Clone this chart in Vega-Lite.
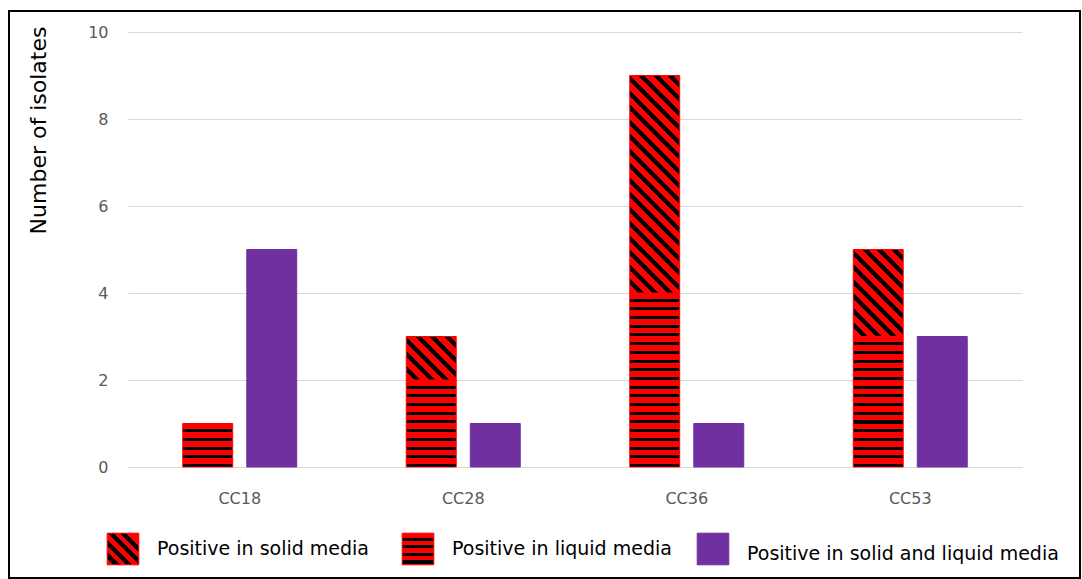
{
  "$schema": "https://vega.github.io/schema/vega-lite/v6.json",
  "width": 1071,
  "height": 567,
  "autosize": {"type": "none"},
  "padding": {"left": 9, "top": 11, "right": 2, "bottom": 1},
  "background": "white",
  "config": {
    "view": {"stroke": "#000000", "strokeWidth": 2},
    "axis": {"labelFont": "DejaVu Sans", "titleFont": "DejaVu Sans"}
  },
  "resolve": {"scale": {"x": "independent", "y": "independent"}},
  "layer": [
    {
      "data": {
        "values": [
          {"cc": "CC18", "bar": "single", "result": "Positive in liquid media", "isolates": 1},
          {"cc": "CC18", "bar": "both", "result": "Positive in solid and liquid media", "isolates": 5},
          {"cc": "CC28", "bar": "single", "result": "Positive in liquid media", "isolates": 2},
          {"cc": "CC28", "bar": "single", "result": "Positive in solid media", "isolates": 1},
          {"cc": "CC28", "bar": "both", "result": "Positive in solid and liquid media", "isolates": 1},
          {"cc": "CC36", "bar": "single", "result": "Positive in liquid media", "isolates": 4},
          {"cc": "CC36", "bar": "single", "result": "Positive in solid media", "isolates": 5},
          {"cc": "CC36", "bar": "both", "result": "Positive in solid and liquid media", "isolates": 1},
          {"cc": "CC53", "bar": "single", "result": "Positive in liquid media", "isolates": 3},
          {"cc": "CC53", "bar": "single", "result": "Positive in solid media", "isolates": 2},
          {"cc": "CC53", "bar": "both", "result": "Positive in solid and liquid media", "isolates": 3}
        ]
      },
      "mark": {"type": "bar", "strokeWidth": 1},
      "encoding": {
        "x": {
          "field": "cc",
          "type": "nominal",
          "title": null,
          "scale": {"range": [119, 1013], "paddingInner": 0.49, "paddingOuter": 0.245},
          "axis": {
            "orient": "bottom",
            "offset": -111,
            "domain": false,
            "ticks": false,
            "labelAngle": 0,
            "labelFontSize": 16,
            "labelColor": "#595959",
            "labelPadding": 23
          }
        },
        "xOffset": {
          "field": "bar",
          "type": "nominal",
          "scale": {"domain": ["single", "both"], "paddingInner": 0.22, "paddingOuter": 0}
        },
        "y": {
          "field": "isolates",
          "type": "quantitative",
          "stack": "zero",
          "scale": {"domain": [0, 10], "range": [456, 21], "nice": false},
          "axis": {
            "orient": "left",
            "offset": -119,
            "values": [0, 2, 4, 6, 8, 10],
            "domain": false,
            "ticks": false,
            "tickSize": 0,
            "grid": true,
            "gridColor": "#d9d9d9",
            "gridWidth": 1,
            "labelFontSize": 16,
            "labelColor": "#595959",
            "labelPadding": 20,
            "title": "Number of isolates",
            "titleFontSize": 22,
            "titleFontWeight": "normal",
            "titleColor": "#000000",
            "titleAngle": -90,
            "titleAlign": "center",
            "titleBaseline": "alphabetic",
            "titleX": -83,
            "titleY": 119
          }
        },
        "order": {"field": "result", "sort": "ascending"},
        "stroke": {
          "condition": {"test": "datum.result !== 'Positive in solid and liquid media'", "value": "#ff0000"},
          "value": "#7030a0"
        },
        "fill": {
          "condition": [
            {
              "test": "datum.result === 'Positive in solid media' && datum.isolates === 1",
              "value": {
                "gradient": "linear",
                "x1": 0, "y1": 1, "x2": 1.0644, "y2": 0.074,
                "stops": [
                  {"offset": 0, "color": "#ff0000"}, {"offset": 0.09305, "color": "#ff0000"}, {"offset": 0.09305, "color": "#000000"}, {"offset": 0.15508, "color": "#000000"},
                  {"offset": 0.15508, "color": "#ff0000"}, {"offset": 0.24813, "color": "#ff0000"}, {"offset": 0.24813, "color": "#000000"}, {"offset": 0.31016, "color": "#000000"},
                  {"offset": 0.31016, "color": "#ff0000"}, {"offset": 0.40321, "color": "#ff0000"}, {"offset": 0.40321, "color": "#000000"}, {"offset": 0.46524, "color": "#000000"},
                  {"offset": 0.46524, "color": "#ff0000"}, {"offset": 0.55829, "color": "#ff0000"}, {"offset": 0.55829, "color": "#000000"}, {"offset": 0.62032, "color": "#000000"},
                  {"offset": 0.62032, "color": "#ff0000"}, {"offset": 0.71337, "color": "#ff0000"}, {"offset": 0.71337, "color": "#000000"}, {"offset": 0.7754, "color": "#000000"},
                  {"offset": 0.7754, "color": "#ff0000"}, {"offset": 0.86845, "color": "#ff0000"}, {"offset": 0.86845, "color": "#000000"}, {"offset": 0.93048, "color": "#000000"},
                  {"offset": 0.93048, "color": "#ff0000"}, {"offset": 1, "color": "#ff0000"}
                ]
              }
            },
            {
              "test": "datum.result === 'Positive in solid media' && datum.isolates === 2",
              "value": {
                "gradient": "linear",
                "x1": 0, "y1": 1, "x2": 0.6803, "y2": -0.1837,
                "stops": [
                  {"offset": 0, "color": "#ff0000"}, {"offset": 0.063503, "color": "#ff0000"}, {"offset": 0.063503, "color": "#000000"}, {"offset": 0.105839, "color": "#000000"},
                  {"offset": 0.105839, "color": "#ff0000"}, {"offset": 0.169342, "color": "#ff0000"}, {"offset": 0.169342, "color": "#000000"}, {"offset": 0.211678, "color": "#000000"},
                  {"offset": 0.211678, "color": "#ff0000"}, {"offset": 0.275181, "color": "#ff0000"}, {"offset": 0.275181, "color": "#000000"}, {"offset": 0.317517, "color": "#000000"},
                  {"offset": 0.317517, "color": "#ff0000"}, {"offset": 0.38102, "color": "#ff0000"}, {"offset": 0.38102, "color": "#000000"}, {"offset": 0.423356, "color": "#000000"},
                  {"offset": 0.423356, "color": "#ff0000"}, {"offset": 0.486859, "color": "#ff0000"}, {"offset": 0.486859, "color": "#000000"}, {"offset": 0.529195, "color": "#000000"},
                  {"offset": 0.529195, "color": "#ff0000"}, {"offset": 0.592698, "color": "#ff0000"}, {"offset": 0.592698, "color": "#000000"}, {"offset": 0.635034, "color": "#000000"},
                  {"offset": 0.635034, "color": "#ff0000"}, {"offset": 0.698537, "color": "#ff0000"}, {"offset": 0.698537, "color": "#000000"}, {"offset": 0.740873, "color": "#000000"},
                  {"offset": 0.740873, "color": "#ff0000"}, {"offset": 0.804376, "color": "#ff0000"}, {"offset": 0.804376, "color": "#000000"}, {"offset": 0.846712, "color": "#000000"},
                  {"offset": 0.846712, "color": "#ff0000"}, {"offset": 0.910215, "color": "#ff0000"}, {"offset": 0.910215, "color": "#000000"}, {"offset": 0.952551, "color": "#000000"},
                  {"offset": 0.952551, "color": "#ff0000"}, {"offset": 1, "color": "#ff0000"}
                ]
              }
            },
            {
              "test": "datum.result === 'Positive in solid media' && datum.isolates === 5",
              "value": {
                "gradient": "linear",
                "x1": 0, "y1": 1, "x2": 0.26854, "y2": -0.16815,
                "stops": [
                  {"offset": 0, "color": "#ff0000"}, {"offset": 0.032524, "color": "#ff0000"}, {"offset": 0.032524, "color": "#000000"}, {"offset": 0.054206, "color": "#000000"},
                  {"offset": 0.054206, "color": "#ff0000"}, {"offset": 0.08673, "color": "#ff0000"}, {"offset": 0.08673, "color": "#000000"}, {"offset": 0.108412, "color": "#000000"},
                  {"offset": 0.108412, "color": "#ff0000"}, {"offset": 0.140936, "color": "#ff0000"}, {"offset": 0.140936, "color": "#000000"}, {"offset": 0.162618, "color": "#000000"},
                  {"offset": 0.162618, "color": "#ff0000"}, {"offset": 0.195142, "color": "#ff0000"}, {"offset": 0.195142, "color": "#000000"}, {"offset": 0.216824, "color": "#000000"},
                  {"offset": 0.216824, "color": "#ff0000"}, {"offset": 0.249348, "color": "#ff0000"}, {"offset": 0.249348, "color": "#000000"}, {"offset": 0.27103, "color": "#000000"},
                  {"offset": 0.27103, "color": "#ff0000"}, {"offset": 0.303554, "color": "#ff0000"}, {"offset": 0.303554, "color": "#000000"}, {"offset": 0.325236, "color": "#000000"},
                  {"offset": 0.325236, "color": "#ff0000"}, {"offset": 0.35776, "color": "#ff0000"}, {"offset": 0.35776, "color": "#000000"}, {"offset": 0.379442, "color": "#000000"},
                  {"offset": 0.379442, "color": "#ff0000"}, {"offset": 0.411966, "color": "#ff0000"}, {"offset": 0.411966, "color": "#000000"}, {"offset": 0.433648, "color": "#000000"},
                  {"offset": 0.433648, "color": "#ff0000"}, {"offset": 0.466172, "color": "#ff0000"}, {"offset": 0.466172, "color": "#000000"}, {"offset": 0.487854, "color": "#000000"},
                  {"offset": 0.487854, "color": "#ff0000"}, {"offset": 0.520378, "color": "#ff0000"}, {"offset": 0.520378, "color": "#000000"}, {"offset": 0.54206, "color": "#000000"},
                  {"offset": 0.54206, "color": "#ff0000"}, {"offset": 0.574584, "color": "#ff0000"}, {"offset": 0.574584, "color": "#000000"}, {"offset": 0.596266, "color": "#000000"},
                  {"offset": 0.596266, "color": "#ff0000"}, {"offset": 0.62879, "color": "#ff0000"}, {"offset": 0.62879, "color": "#000000"}, {"offset": 0.650472, "color": "#000000"},
                  {"offset": 0.650472, "color": "#ff0000"}, {"offset": 0.682996, "color": "#ff0000"}, {"offset": 0.682996, "color": "#000000"}, {"offset": 0.704678, "color": "#000000"},
                  {"offset": 0.704678, "color": "#ff0000"}, {"offset": 0.737202, "color": "#ff0000"}, {"offset": 0.737202, "color": "#000000"}, {"offset": 0.758884, "color": "#000000"},
                  {"offset": 0.758884, "color": "#ff0000"}, {"offset": 0.791408, "color": "#ff0000"}, {"offset": 0.791408, "color": "#000000"}, {"offset": 0.81309, "color": "#000000"},
                  {"offset": 0.81309, "color": "#ff0000"}, {"offset": 0.845614, "color": "#ff0000"}, {"offset": 0.845614, "color": "#000000"}, {"offset": 0.867296, "color": "#000000"},
                  {"offset": 0.867296, "color": "#ff0000"}, {"offset": 0.89982, "color": "#ff0000"}, {"offset": 0.89982, "color": "#000000"}, {"offset": 0.921502, "color": "#000000"},
                  {"offset": 0.921502, "color": "#ff0000"}, {"offset": 0.954026, "color": "#ff0000"}, {"offset": 0.954026, "color": "#000000"}, {"offset": 0.975708, "color": "#000000"},
                  {"offset": 0.975708, "color": "#ff0000"}, {"offset": 1, "color": "#ff0000"}
                ]
              }
            },
            {
              "test": "datum.result === 'Positive in liquid media' && datum.isolates === 1",
              "value": {
                "gradient": "linear",
                "x1": 1, "y1": 0, "x2": 1, "y2": 1,
                "stops": [
                  {"offset": 0, "color": "#ff0000"}, {"offset": 0.13, "color": "#ff0000"}, {"offset": 0.13, "color": "#000000"}, {"offset": 0.2, "color": "#000000"},
                  {"offset": 0.2, "color": "#ff0000"}, {"offset": 0.33, "color": "#ff0000"}, {"offset": 0.33, "color": "#000000"}, {"offset": 0.4, "color": "#000000"},
                  {"offset": 0.4, "color": "#ff0000"}, {"offset": 0.53, "color": "#ff0000"}, {"offset": 0.53, "color": "#000000"}, {"offset": 0.6, "color": "#000000"},
                  {"offset": 0.6, "color": "#ff0000"}, {"offset": 0.73, "color": "#ff0000"}, {"offset": 0.73, "color": "#000000"}, {"offset": 0.8, "color": "#000000"},
                  {"offset": 0.8, "color": "#ff0000"}, {"offset": 0.93, "color": "#ff0000"}, {"offset": 0.93, "color": "#000000"}, {"offset": 1, "color": "#000000"}
                ]
              }
            },
            {
              "test": "datum.result === 'Positive in liquid media' && datum.isolates === 2",
              "value": {
                "gradient": "linear",
                "x1": 1, "y1": 0, "x2": 1, "y2": 1,
                "stops": [
                  {"offset": 0, "color": "#ff0000"}, {"offset": 0.065, "color": "#ff0000"}, {"offset": 0.065, "color": "#000000"}, {"offset": 0.1, "color": "#000000"},
                  {"offset": 0.1, "color": "#ff0000"}, {"offset": 0.165, "color": "#ff0000"}, {"offset": 0.165, "color": "#000000"}, {"offset": 0.2, "color": "#000000"},
                  {"offset": 0.2, "color": "#ff0000"}, {"offset": 0.265, "color": "#ff0000"}, {"offset": 0.265, "color": "#000000"}, {"offset": 0.3, "color": "#000000"},
                  {"offset": 0.3, "color": "#ff0000"}, {"offset": 0.365, "color": "#ff0000"}, {"offset": 0.365, "color": "#000000"}, {"offset": 0.4, "color": "#000000"},
                  {"offset": 0.4, "color": "#ff0000"}, {"offset": 0.465, "color": "#ff0000"}, {"offset": 0.465, "color": "#000000"}, {"offset": 0.5, "color": "#000000"},
                  {"offset": 0.5, "color": "#ff0000"}, {"offset": 0.565, "color": "#ff0000"}, {"offset": 0.565, "color": "#000000"}, {"offset": 0.6, "color": "#000000"},
                  {"offset": 0.6, "color": "#ff0000"}, {"offset": 0.665, "color": "#ff0000"}, {"offset": 0.665, "color": "#000000"}, {"offset": 0.7, "color": "#000000"},
                  {"offset": 0.7, "color": "#ff0000"}, {"offset": 0.765, "color": "#ff0000"}, {"offset": 0.765, "color": "#000000"}, {"offset": 0.8, "color": "#000000"},
                  {"offset": 0.8, "color": "#ff0000"}, {"offset": 0.865, "color": "#ff0000"}, {"offset": 0.865, "color": "#000000"}, {"offset": 0.9, "color": "#000000"},
                  {"offset": 0.9, "color": "#ff0000"}, {"offset": 0.965, "color": "#ff0000"}, {"offset": 0.965, "color": "#000000"}, {"offset": 1, "color": "#000000"}
                ]
              }
            },
            {
              "test": "datum.result === 'Positive in liquid media' && datum.isolates === 3",
              "value": {
                "gradient": "linear",
                "x1": 1, "y1": 0, "x2": 1, "y2": 1,
                "stops": [
                  {"offset": 0, "color": "#ff0000"}, {"offset": 0.043333, "color": "#ff0000"}, {"offset": 0.043333, "color": "#000000"}, {"offset": 0.066667, "color": "#000000"},
                  {"offset": 0.066667, "color": "#ff0000"}, {"offset": 0.11, "color": "#ff0000"}, {"offset": 0.11, "color": "#000000"}, {"offset": 0.133333, "color": "#000000"},
                  {"offset": 0.133333, "color": "#ff0000"}, {"offset": 0.176667, "color": "#ff0000"}, {"offset": 0.176667, "color": "#000000"}, {"offset": 0.2, "color": "#000000"},
                  {"offset": 0.2, "color": "#ff0000"}, {"offset": 0.243333, "color": "#ff0000"}, {"offset": 0.243333, "color": "#000000"}, {"offset": 0.266667, "color": "#000000"},
                  {"offset": 0.266667, "color": "#ff0000"}, {"offset": 0.31, "color": "#ff0000"}, {"offset": 0.31, "color": "#000000"}, {"offset": 0.333333, "color": "#000000"},
                  {"offset": 0.333333, "color": "#ff0000"}, {"offset": 0.376667, "color": "#ff0000"}, {"offset": 0.376667, "color": "#000000"}, {"offset": 0.4, "color": "#000000"},
                  {"offset": 0.4, "color": "#ff0000"}, {"offset": 0.443333, "color": "#ff0000"}, {"offset": 0.443333, "color": "#000000"}, {"offset": 0.466667, "color": "#000000"},
                  {"offset": 0.466667, "color": "#ff0000"}, {"offset": 0.51, "color": "#ff0000"}, {"offset": 0.51, "color": "#000000"}, {"offset": 0.533333, "color": "#000000"},
                  {"offset": 0.533333, "color": "#ff0000"}, {"offset": 0.576667, "color": "#ff0000"}, {"offset": 0.576667, "color": "#000000"}, {"offset": 0.6, "color": "#000000"},
                  {"offset": 0.6, "color": "#ff0000"}, {"offset": 0.643333, "color": "#ff0000"}, {"offset": 0.643333, "color": "#000000"}, {"offset": 0.666667, "color": "#000000"},
                  {"offset": 0.666667, "color": "#ff0000"}, {"offset": 0.71, "color": "#ff0000"}, {"offset": 0.71, "color": "#000000"}, {"offset": 0.733333, "color": "#000000"},
                  {"offset": 0.733333, "color": "#ff0000"}, {"offset": 0.776667, "color": "#ff0000"}, {"offset": 0.776667, "color": "#000000"}, {"offset": 0.8, "color": "#000000"},
                  {"offset": 0.8, "color": "#ff0000"}, {"offset": 0.843333, "color": "#ff0000"}, {"offset": 0.843333, "color": "#000000"}, {"offset": 0.866667, "color": "#000000"},
                  {"offset": 0.866667, "color": "#ff0000"}, {"offset": 0.91, "color": "#ff0000"}, {"offset": 0.91, "color": "#000000"}, {"offset": 0.933333, "color": "#000000"},
                  {"offset": 0.933333, "color": "#ff0000"}, {"offset": 0.976667, "color": "#ff0000"}, {"offset": 0.976667, "color": "#000000"}, {"offset": 1, "color": "#000000"}
                ]
              }
            },
            {
              "test": "datum.result === 'Positive in liquid media' && datum.isolates === 4",
              "value": {
                "gradient": "linear",
                "x1": 1, "y1": 0, "x2": 1, "y2": 1,
                "stops": [
                  {"offset": 0, "color": "#ff0000"}, {"offset": 0.0325, "color": "#ff0000"}, {"offset": 0.0325, "color": "#000000"}, {"offset": 0.05, "color": "#000000"},
                  {"offset": 0.05, "color": "#ff0000"}, {"offset": 0.0825, "color": "#ff0000"}, {"offset": 0.0825, "color": "#000000"}, {"offset": 0.1, "color": "#000000"},
                  {"offset": 0.1, "color": "#ff0000"}, {"offset": 0.1325, "color": "#ff0000"}, {"offset": 0.1325, "color": "#000000"}, {"offset": 0.15, "color": "#000000"},
                  {"offset": 0.15, "color": "#ff0000"}, {"offset": 0.1825, "color": "#ff0000"}, {"offset": 0.1825, "color": "#000000"}, {"offset": 0.2, "color": "#000000"},
                  {"offset": 0.2, "color": "#ff0000"}, {"offset": 0.2325, "color": "#ff0000"}, {"offset": 0.2325, "color": "#000000"}, {"offset": 0.25, "color": "#000000"},
                  {"offset": 0.25, "color": "#ff0000"}, {"offset": 0.2825, "color": "#ff0000"}, {"offset": 0.2825, "color": "#000000"}, {"offset": 0.3, "color": "#000000"},
                  {"offset": 0.3, "color": "#ff0000"}, {"offset": 0.3325, "color": "#ff0000"}, {"offset": 0.3325, "color": "#000000"}, {"offset": 0.35, "color": "#000000"},
                  {"offset": 0.35, "color": "#ff0000"}, {"offset": 0.3825, "color": "#ff0000"}, {"offset": 0.3825, "color": "#000000"}, {"offset": 0.4, "color": "#000000"},
                  {"offset": 0.4, "color": "#ff0000"}, {"offset": 0.4325, "color": "#ff0000"}, {"offset": 0.4325, "color": "#000000"}, {"offset": 0.45, "color": "#000000"},
                  {"offset": 0.45, "color": "#ff0000"}, {"offset": 0.4825, "color": "#ff0000"}, {"offset": 0.4825, "color": "#000000"}, {"offset": 0.5, "color": "#000000"},
                  {"offset": 0.5, "color": "#ff0000"}, {"offset": 0.5325, "color": "#ff0000"}, {"offset": 0.5325, "color": "#000000"}, {"offset": 0.55, "color": "#000000"},
                  {"offset": 0.55, "color": "#ff0000"}, {"offset": 0.5825, "color": "#ff0000"}, {"offset": 0.5825, "color": "#000000"}, {"offset": 0.6, "color": "#000000"},
                  {"offset": 0.6, "color": "#ff0000"}, {"offset": 0.6325, "color": "#ff0000"}, {"offset": 0.6325, "color": "#000000"}, {"offset": 0.65, "color": "#000000"},
                  {"offset": 0.65, "color": "#ff0000"}, {"offset": 0.6825, "color": "#ff0000"}, {"offset": 0.6825, "color": "#000000"}, {"offset": 0.7, "color": "#000000"},
                  {"offset": 0.7, "color": "#ff0000"}, {"offset": 0.7325, "color": "#ff0000"}, {"offset": 0.7325, "color": "#000000"}, {"offset": 0.75, "color": "#000000"},
                  {"offset": 0.75, "color": "#ff0000"}, {"offset": 0.7825, "color": "#ff0000"}, {"offset": 0.7825, "color": "#000000"}, {"offset": 0.8, "color": "#000000"},
                  {"offset": 0.8, "color": "#ff0000"}, {"offset": 0.8325, "color": "#ff0000"}, {"offset": 0.8325, "color": "#000000"}, {"offset": 0.85, "color": "#000000"},
                  {"offset": 0.85, "color": "#ff0000"}, {"offset": 0.8825, "color": "#ff0000"}, {"offset": 0.8825, "color": "#000000"}, {"offset": 0.9, "color": "#000000"},
                  {"offset": 0.9, "color": "#ff0000"}, {"offset": 0.9325, "color": "#ff0000"}, {"offset": 0.9325, "color": "#000000"}, {"offset": 0.95, "color": "#000000"},
                  {"offset": 0.95, "color": "#ff0000"}, {"offset": 0.9825, "color": "#ff0000"}, {"offset": 0.9825, "color": "#000000"}, {"offset": 1, "color": "#000000"}
                ]
              }
            }
          ],
          "value": "#7030a0"
        }
      }
    },
    {
      "data": {
        "values": [
          {"result": "Positive in solid media"},
          {"result": "Positive in liquid media"},
          {"result": "Positive in solid and liquid media"}
        ]
      },
      "encoding": {
        "x": {
          "field": "result",
          "type": "nominal",
          "sort": null,
          "scale": {
            "type": "point",
            "domain": ["Positive in solid media", "Positive in liquid media", "Positive in solid and liquid media"],
            "range": [114, 704],
            "padding": 0
          },
          "axis": null
        },
        "y": {
          "field": "result",
          "type": "nominal",
          "scale": {"type": "point", "range": [538, 538], "padding": 0},
          "axis": null
        }
      },
      "layer": [
        {
          "mark": {"type": "square", "size": 1000, "filled": true, "opacity": 1, "strokeWidth": 1},
          "encoding": {
            "stroke": {
              "condition": {"test": "datum.result !== 'Positive in solid and liquid media'", "value": "#ff0000"},
              "value": "#7030a0"
            },
            "fill": {
              "condition": [
                {
                  "test": "datum.result === 'Positive in solid media'",
                  "value": {
                    "gradient": "linear",
                    "x1": 0, "y1": 1, "x2": 1, "y2": 0,
                    "stops": [
                      {"offset": 0, "color": "#ff0000"}, {"offset": 0.1, "color": "#ff0000"},
                      {"offset": 0.1, "color": "#000000"}, {"offset": 0.2, "color": "#000000"},
                      {"offset": 0.2, "color": "#ff0000"}, {"offset": 0.3, "color": "#ff0000"},
                      {"offset": 0.3, "color": "#000000"}, {"offset": 0.4, "color": "#000000"},
                      {"offset": 0.4, "color": "#ff0000"}, {"offset": 0.5, "color": "#ff0000"},
                      {"offset": 0.5, "color": "#000000"}, {"offset": 0.6, "color": "#000000"},
                      {"offset": 0.6, "color": "#ff0000"}, {"offset": 0.7, "color": "#ff0000"},
                      {"offset": 0.7, "color": "#000000"}, {"offset": 0.8, "color": "#000000"},
                      {"offset": 0.8, "color": "#ff0000"}, {"offset": 1, "color": "#ff0000"}
                    ]
                  }
                },
                {
                  "test": "datum.result === 'Positive in liquid media'",
                  "value": {
                    "gradient": "linear",
                    "x1": 1, "y1": 0, "x2": 1, "y2": 1,
                    "stops": [
                      {"offset": 0, "color": "#ff0000"}, {"offset": 0.14, "color": "#ff0000"},
                      {"offset": 0.14, "color": "#000000"}, {"offset": 0.24, "color": "#000000"},
                      {"offset": 0.24, "color": "#ff0000"}, {"offset": 0.38, "color": "#ff0000"},
                      {"offset": 0.38, "color": "#000000"}, {"offset": 0.48, "color": "#000000"},
                      {"offset": 0.48, "color": "#ff0000"}, {"offset": 0.62, "color": "#ff0000"},
                      {"offset": 0.62, "color": "#000000"}, {"offset": 0.72, "color": "#000000"},
                      {"offset": 0.72, "color": "#ff0000"}, {"offset": 0.86, "color": "#ff0000"},
                      {"offset": 0.86, "color": "#000000"}, {"offset": 0.96, "color": "#000000"},
                      {"offset": 0.96, "color": "#ff0000"}, {"offset": 1, "color": "#ff0000"}
                    ]
                  }
                }
              ],
              "value": "#7030a0"
            }
          }
        },
        {
          "mark": {
            "type": "text",
            "align": "left",
            "baseline": "middle",
            "dx": 34,
            "dy": {"expr": "datum.result === 'Positive in solid and liquid media' ? 5 : 0"},
            "font": "DejaVu Sans",
            "fontSize": 19,
            "color": "#000000"
          },
          "encoding": {
            "text": {"field": "result", "type": "nominal"}
          }
        }
      ]
    }
  ]
}
